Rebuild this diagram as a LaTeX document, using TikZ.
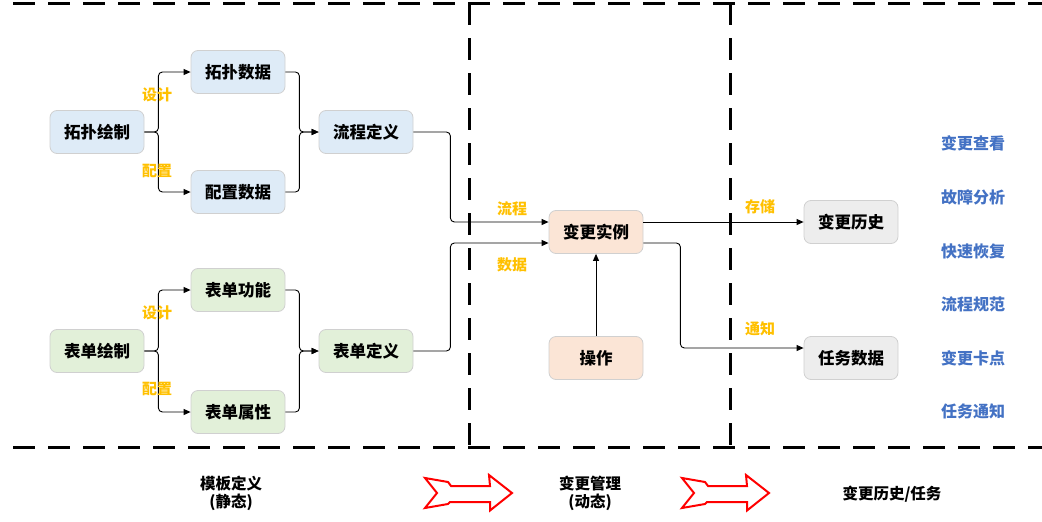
\documentclass[tikz,border=0pt]{standalone}
\usepackage{fontspec}
\setmainfont{Noto Sans CJK SC}
\usetikzlibrary{arrows.meta}
\definecolor{bluef}{HTML}{DEEBF7}
\definecolor{greenf}{HTML}{E2F0D9}
\definecolor{orangef}{HTML}{FBE5D6}
\definecolor{greyf}{HTML}{EDEDED}
\definecolor{boxline}{HTML}{D0D0D0}
\definecolor{lbl}{HTML}{FFC000}
\definecolor{bluet}{HTML}{4472C4}
\tikzset{
  box/.style={draw=boxline, line width=0.8pt, rounded corners=7pt, minimum width=94pt, minimum height=43pt, inner sep=0pt, font=\fontsize{16.5}{18}\selectfont\bfseries},
  bbox/.style={box, fill=bluef},
  gbox/.style={box, fill=greenf},
  obox/.style={box, fill=orangef},
  ybox/.style={box, fill=greyf},
  conn/.style={draw=black, line width=0.9pt, rounded corners=4pt, -{Triangle[length=7pt,width=6pt]}},
  lab/.style={text=lbl, font=\fontsize{15}{16}\selectfont\bfseries, inner sep=0pt},
  side/.style={text=bluet, font=\fontsize{16}{17}\selectfont\bfseries, inner sep=0pt},
  foot/.style={font=\fontsize{15.5}{18}\selectfont\bfseries, align=center, inner sep=0pt},
  frame/.style={line width=3pt, dash pattern=on 22pt off 13pt},
  bigarrow/.style={draw=red, line width=2pt, fill=white, line join=miter}
}
\begin{document}
\begin{tikzpicture}[x=1pt,y=-1pt]
\useasboundingbox (0,0) rectangle (1042,522);
% frames
\draw[frame] (13,3) -- (1042,3);
\draw[frame] (13,447) -- (1042,447);
\draw[frame] (469,3) -- (469,447);
\draw[frame] (730,3) -- (730,447);

% nodes
\node[bbox] (tphz) at (97,132) {拓扑绘制};
\node[bbox] (tpsj) at (238,72) {拓扑数据};
\node[bbox] (pzsj) at (238,192) {配置数据};
\node[bbox] (lcdy) at (366,132) {流程定义};
\node[gbox] (bdhz) at (97,351) {表单绘制};
\node[gbox] (bdgn) at (238,290) {表单功能};
\node[gbox] (bdsx) at (238,412) {表单属性};
\node[gbox] (bddy) at (366,351) {表单定义};
\node[obox] (bgsl) at (596,232) {变更实例};
\node[obox] (cz) at (596,358) {操作};
\node[ybox] (bgls) at (851,222) {变更历史};
\node[ybox] (rwsj) at (851,358) {任务数据};

% connectors
\draw[conn] (tphz.east) -- ++(14,0) |- (tpsj.west);
\draw[conn] (tphz.east) -- ++(14,0) |- (pzsj.west);
\draw[conn] (tpsj.east) -- ++(14,0) |- (lcdy.west);
\draw[conn] (pzsj.east) -- ++(14,0) |- (lcdy.west);
\draw[conn] (bdhz.east) -- ++(14,0) |- (bdgn.west);
\draw[conn] (bdhz.east) -- ++(14,0) |- (bdsx.west);
\draw[conn] (bdgn.east) -- ++(14,0) |- (bddy.west);
\draw[conn] (bdsx.east) -- ++(14,0) |- (bddy.west);
\draw[conn] (lcdy.east) -- ++(37,0) |- ([yshift=10pt]bgsl.west);
\draw[conn] (bddy.east) -- ++(37,0) |- ([yshift=-11pt]bgsl.west);
\draw[conn] (cz.north) -- (bgsl.south);
\draw[conn] ([yshift=10pt]bgsl.east) -- (bgls.west);
\draw[conn] ([yshift=-11pt]bgsl.east) -- ++(37,0) |- ([yshift=10pt]rwsj.west);

% labels
\node[lab] (l1) at (157,95) {设计};
\node[lab] (l2) at (157,171) {配置};
\node[lab] (l3) at (157,313) {设计};
\node[lab] (l4) at (157,389) {配置};
\node[lab] (l5) at (512,209) {流程};
\node[lab] (l6) at (512,265) {数据};
\node[lab] (l7) at (760,207) {存储};
\node[lab] (l8) at (760,329) {通知};

% side texts
\node[side] (s1) at (973,143) {变更查看};
\node[side] (s2) at (973,197) {故障分析};
\node[side] (s3) at (973,251) {快速恢复};
\node[side] (s4) at (973,304) {流程规范};
\node[side] (s5) at (973,358) {变更卡点};
\node[side] (s6) at (973,411) {任务通知};

% footer
\node[foot] (f1) at (231,493) {模板定义\\(静态)};
\node[foot] (f2) at (590,493) {变更管理\\(动态)};
\node[foot] (f3) at (892,494) {变更历史/任务};

% big arrows
\foreach \dx/\nm in {0/a1,257/a2}{
  \begin{scope}[xshift=\dx pt]
  \draw[bigarrow] (425,478) -- (448,482) -- (451,486) -- (490,486) -- (489,475) -- (512,493) -- (490,510.5) -- (490,502) -- (450,502) -- (448,504) -- (425,508) -- (437,493) -- cycle;
  \end{scope}
}
\end{tikzpicture}
\end{document}
